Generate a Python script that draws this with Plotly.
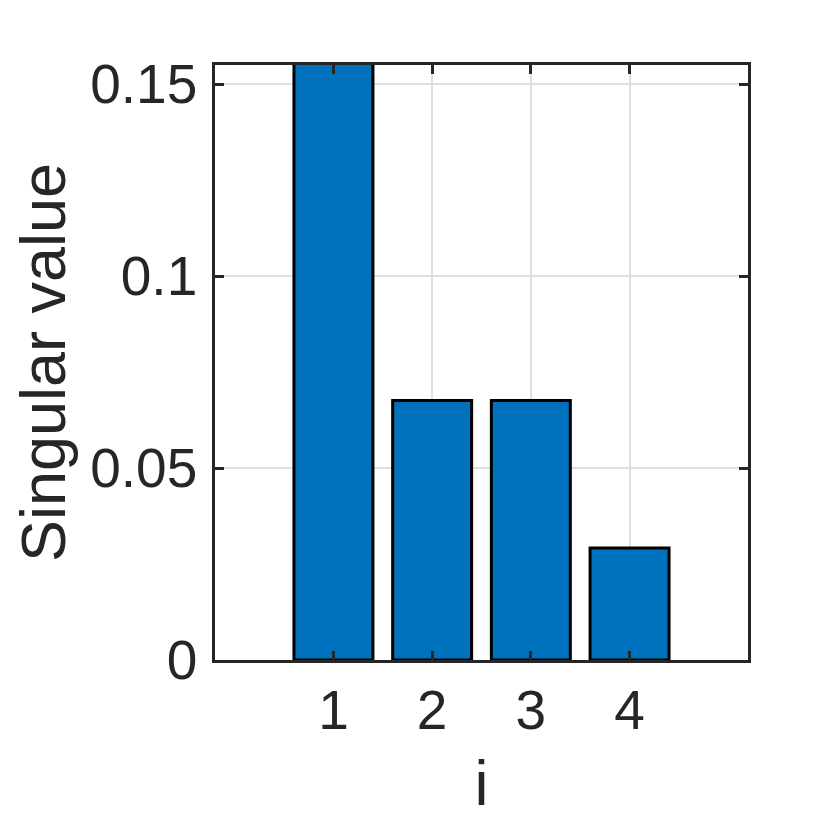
import plotly.graph_objects as go

# singular values
idx = [1, 2, 3, 4]
sv = [0.17, 0.0676, 0.0676, 0.0292]

y_ticks = [0, 0.05, 0.1, 0.15]
y_ticklabels = ["0", "0.05", "0.1", "0.15"]

FONT = "Liberation Sans, Arial, sans-serif"
INK = "#262626"

fig = go.Figure(go.Bar(
    x=idx, y=sv, width=0.8,
    marker=dict(color="#0072BD", line=dict(color="black", width=3)),
))

axis_common = dict(
    showline=True, linecolor=INK, linewidth=2.5, mirror="allticks",
    ticks="inside", ticklen=9, tickwidth=2.5, tickcolor=INK,
    showgrid=True, gridcolor="#dfdfdf", gridwidth=2,
    zeroline=False, automargin=False,
    tickfont=dict(family=FONT, size=55, color=INK),
    title_font=dict(family=FONT, size=63, color=INK),
)

fig.update_xaxes(
    range=[-0.2, 5.2], tickvals=idx, ticktext=[str(i) for i in idx],
    title_text="i", title_standoff=22, ticklabelstandoff=0,
    **axis_common,
)
fig.update_yaxes(
    range=[0, 0.155], tickvals=y_ticks, ticktext=y_ticklabels,
    title_text="Singular value", title_standoff=14, ticklabelstandoff=4,
    **axis_common,
)

fig.update_layout(
    width=830, height=830,
    margin=dict(l=207, r=90, t=57, b=178),
    paper_bgcolor="white", plot_bgcolor="white",
    showlegend=False,
)

fig.write_html("out.html")
